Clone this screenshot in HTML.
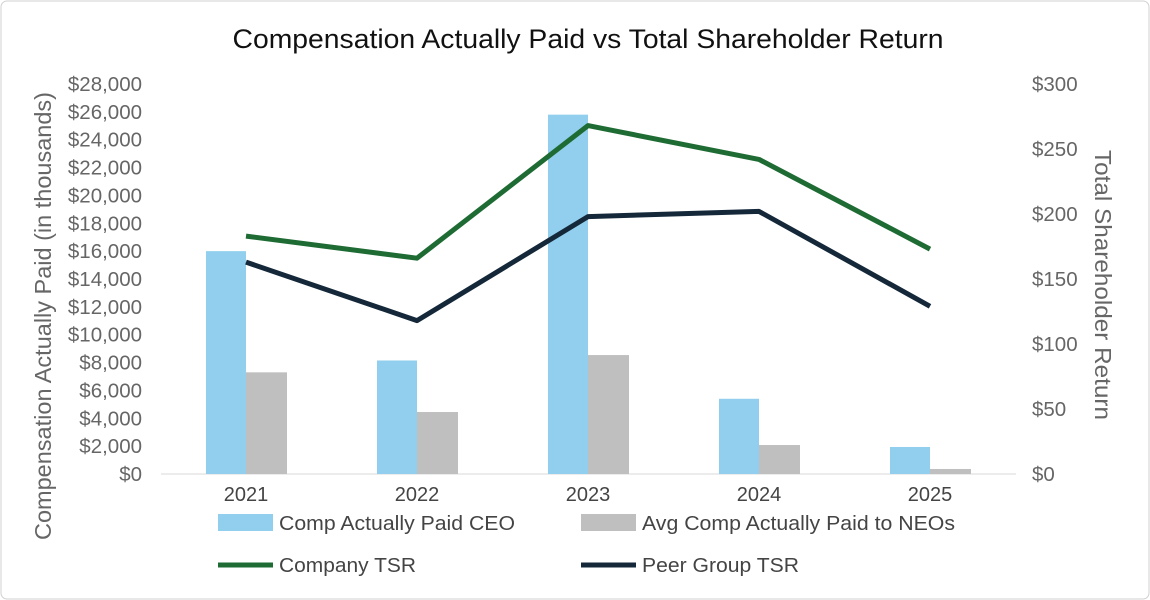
<!DOCTYPE html>
<html><head><meta charset="utf-8"><style>
body{margin:0;background:#fff;}
svg{display:block;font-family:"Liberation Sans",sans-serif;}
</style></head><body>
<svg id="chart" width="1150" height="600" viewBox="0 0 1150 600">
<rect x="1" y="1" width="1148" height="598" rx="6" fill="#fff" stroke="#d0d0d0"/>
<text x="588" y="48" font-size="27" text-anchor="middle" fill="#111" textLength="711" lengthAdjust="spacingAndGlyphs">Compensation Actually Paid vs Total Shareholder Return</text>
<g id="leftTicks"></g><g id="rightTicks"></g><g id="xTicks"></g><g id="bars"></g><g id="lines"></g>
<text transform="translate(51,316) rotate(-90)" font-size="23" text-anchor="middle" fill="#666" textLength="448" lengthAdjust="spacingAndGlyphs">Compensation Actually Paid (in thousands)</text>
<text transform="translate(1095,285) rotate(90)" font-size="23" text-anchor="middle" fill="#666" textLength="270" lengthAdjust="spacingAndGlyphs">Total Shareholder Return</text>
<g>
<rect x="218" y="514" width="55" height="17" fill="#92cfee"/>
<text x="279" y="530" font-size="20" fill="#444" textLength="236" lengthAdjust="spacingAndGlyphs">Comp Actually Paid CEO</text>
<rect x="581" y="514" width="55" height="17" fill="#bfbfbf"/>
<text x="642" y="530" font-size="20" fill="#444" textLength="313" lengthAdjust="spacingAndGlyphs">Avg Comp Actually Paid to NEOs</text>
<line x1="218" y1="565" x2="273" y2="565" stroke="#1e6b34" stroke-width="5"/>
<text x="279" y="572" font-size="20" fill="#444" textLength="137" lengthAdjust="spacingAndGlyphs">Company TSR</text>
<line x1="581" y1="565" x2="636" y2="565" stroke="#14283a" stroke-width="5"/>
<text x="642" y="572" font-size="20" fill="#444" textLength="157" lengthAdjust="spacingAndGlyphs">Peer Group TSR</text>
</g>
</svg>
<script>
const years=["2021","2022","2023","2024","2025"];
const ceoPay=[16000,8150,25800,5400,1940];
const neoPay=[7300,4450,8540,2080,360];
const companyTSR=[183,166,268,242,173];
const peerTSR=[163,118,198,202,129];
const leftTicks=[0,2000,4000,6000,8000,10000,12000,14000,16000,18000,20000,22000,24000,26000,28000];
const rightTicks=[0,50,100,150,200,250,300];
const NS="http://www.w3.org/2000/svg";
const y0=474,yTop=84;
const yL=v=>y0-(v/28000)*(y0-yTop);
const yR=v=>y0-(v/300)*(y0-yTop);
const xC=i=>246+i*171;
function mk(tag,attrs,parent,text){const e=document.createElementNS(NS,tag);for(const k in attrs)e.setAttribute(k,attrs[k]);if(text!==undefined)e.textContent=text;document.getElementById(parent).appendChild(e);return e;}
leftTicks.forEach(v=>{const t=mk('text',{x:142,y:yL(v)+7,'font-size':20.5,'text-anchor':'end',fill:'#666'},'leftTicks','$'+v.toLocaleString('en-US'));

});
rightTicks.forEach(v=>{const t=mk('text',{x:1032,y:yR(v)+7,'font-size':20.5,fill:'#666'},'rightTicks','$'+v);

});
const ax=mk('line',{x1:161,x2:1016,y1:y0,y2:y0,stroke:'#d9d9d9','stroke-width':1},'xTicks');


years.forEach((yr,i)=>{const t=mk('text',{x:xC(i),y:501,'font-size':20,'text-anchor':'middle',fill:'#444'},'xTicks',yr);


const b=mk('rect',{x:xC(i)-40,y:yL(ceoPay[i]),width:40,height:y0-yL(ceoPay[i]),fill:'#92cfee'},'bars');


const n=mk('rect',{x:xC(i),y:yL(neoPay[i]),width:41,height:y0-yL(neoPay[i]),fill:'#bfbfbf'},'bars');

});
const cl=mk('polyline',{points:companyTSR.map((v,i)=>xC(i)+','+yR(v)).join(' '),fill:'none',stroke:'#1e6b34','stroke-width':5,'stroke-linejoin':'round'},'lines');


const pl=mk('polyline',{points:peerTSR.map((v,i)=>xC(i)+','+yR(v)).join(' '),fill:'none',stroke:'#14283a','stroke-width':5,'stroke-linejoin':'round'},'lines');


</script>
</body></html>
